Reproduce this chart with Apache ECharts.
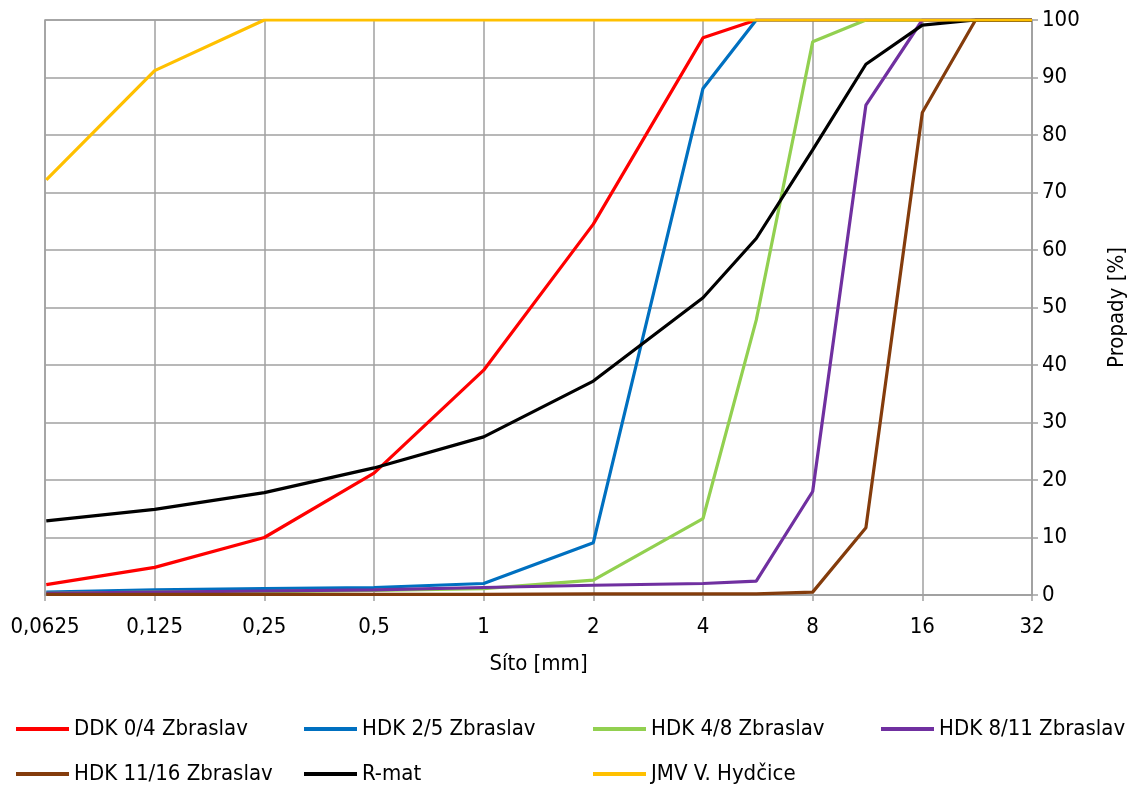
<!DOCTYPE html>
<html>
<head>
<meta charset="utf-8">
<script src="https://cdn.jsdelivr.net/npm/echarts@6/dist/echarts.min.js"></script>
<style>
  html, body { margin: 0; padding: 0; background: #fff; }
  #chart { width: 1139px; height: 789px; }
</style>
</head>
<body>
<div id="chart"></div>
<script>
// Sieve sizes [mm] and passing percentages for each aggregate
const sieves = [0.063, 0.125, 0.25, 0.5, 1, 2, 4, 5.6, 8, 11.2, 16, 22.4, 32];
const xTickValues = [0.0625, 0.125, 0.25, 0.5, 1, 2, 4, 8, 16, 32];

const ddk04   = [1.8, 4.8, 10.0, 21.2, 39.1, 64.5, 96.9, 100, 100, 100, 100, 100, 100];
const hdk25   = [0.5, 0.9, 1.1, 1.3, 2.0, 9.1, 88.1, 100, 100, 100, 100, 100, 100];
const hdk48   = [0.3, 0.5, 0.6, 0.8, 1.1, 2.6, 13.3, 47.8, 96.2, 100, 100, 100, 100];
const hdk811  = [0.3, 0.5, 0.7, 0.9, 1.3, 1.7, 2.0, 2.4, 18.0, 85.2, 100, 100, 100];
const hdk1116 = [0.1, 0.1, 0.1, 0.1, 0.1, 0.2, 0.2, 0.2, 0.5, 11.7, 83.9, 100, 100];
const rmat    = [12.9, 14.9, 17.8, 22.1, 27.5, 37.2, 51.7, 62.0, 77.4, 92.3, 99.1, 100, 100];
const jmv     = [72.2, 91.2, 100, 100, 100, 100, 100, 100, 100, 100, 100, 100, 100];

const seriesNames = ['DDK 0/4 Zbraslav', 'HDK 2/5 Zbraslav', 'HDK 4/8 Zbraslav', 'HDK 8/11 Zbraslav',
                     'HDK 11/16 Zbraslav', 'R-mat', 'JMV V. Hydčice'];
const seriesData = [ddk04, hdk25, hdk48, hdk811, hdk1116, rmat, jmv];
const seriesColors = ['#FF0000', '#0070C0', '#92D050', '#7030A0', '#843C0C', '#000000', '#FFC000'];

const FONT = "'Liberation Sans Narrow', 'Arial Narrow', 'DejaVu Sans Condensed', sans-serif";
const GRID_COLOR = '#A0A0A0';

const chart = echarts.init(document.getElementById('chart'), null, { renderer: 'canvas' });

// Legend laid out as a fixed 4-column grid, two rows
const legendCols = [16, 304, 593, 881];
const legendRows = [718, 763];
const legends = seriesNames.map((name, i) => ({
  data: [name],
  left: legendCols[i % 4],
  top: legendRows[Math.floor(i / 4)],
  icon: 'rect',
  itemWidth: 53,
  itemHeight: 4,
  padding: 0,
  textStyle: { fontFamily: FONT, fontSize: 22, color: '#000' }
}));

const option = {
  animation: false,
  backgroundColor: '#fff',
  grid: { left: 45, right: 107, top: 20, bottom: 194, containLabel: false,
          show: true, borderColor: GRID_COLOR, borderWidth: 1.5 },
  legend: legends,
  xAxis: {
    type: 'log',
    logBase: 2,
    min: xTickValues[0],
    max: xTickValues[xTickValues.length - 1],
    splitNumber: 10,
    name: 'Síto [mm]',
    nameLocation: 'middle',
    nameGap: 58,
    nameTextStyle: { fontFamily: FONT, fontSize: 22, color: '#000' },
    axisLine: { show: true, lineStyle: { color: GRID_COLOR, width: 1.5 } },
    axisTick: { show: true, length: 6, lineStyle: { color: GRID_COLOR, width: 1.5 } },
    splitLine: { show: true, lineStyle: { color: GRID_COLOR, width: 1.5 } },
    axisLabel: {
      margin: 21,
      fontFamily: FONT, fontSize: 22, color: '#000',
      formatter: v => String(+(+v).toPrecision(6)).replace('.', ',')
    }
  },
  yAxis: {
    type: 'value',
    position: 'right',
    min: 0, max: 100, interval: 10,
    name: 'Propady [%]',
    nameLocation: 'middle',
    nameRotate: 90,
    nameGap: 74,
    nameTextStyle: { fontFamily: FONT, fontSize: 22, color: '#000' },
    axisLine: { show: true, lineStyle: { color: GRID_COLOR, width: 1.5 } },
    axisTick: { show: true, length: 6, lineStyle: { color: GRID_COLOR, width: 1.5 } },
    splitLine: { show: true, lineStyle: { color: GRID_COLOR, width: 1.5 } },
    axisLabel: { margin: 10, fontFamily: FONT, fontSize: 22, color: '#000' }
  },
  series: seriesNames.map((name, i) => ({
    name,
    type: 'line',
    data: sieves.map((s, j) => [s, seriesData[i][j]]),
    symbol: 'none',
    smooth: false,
    color: seriesColors[i],
    lineStyle: { width: 3.2, color: seriesColors[i] }
  }))
};

chart.setOption(option);
</script>
</body>
</html>
